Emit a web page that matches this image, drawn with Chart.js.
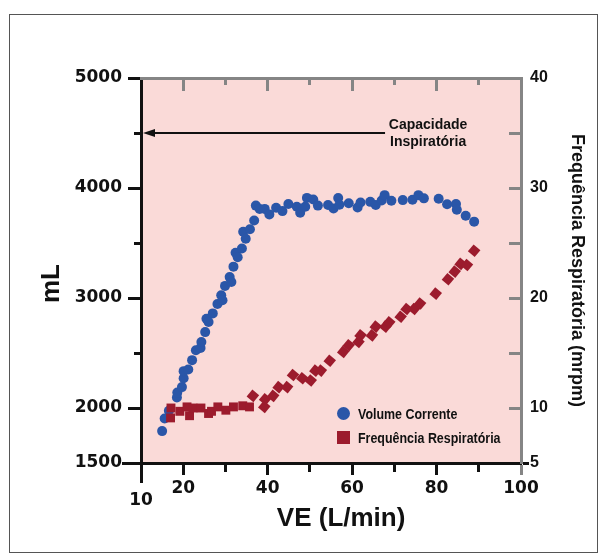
<!DOCTYPE html>
<html>
<head>
<meta charset="utf-8">
<script src="https://cdn.jsdelivr.net/npm/chart.js@4"></script>
<style>
  html, body { margin: 0; padding: 0; background: #fff; }
  #wrap { position: relative; width: 604px; height: 560px; }
  #frame { position: absolute; left: 9px; top: 14px; width: 587px; height: 537px; border: 1px solid #555; }
  #chart { position: absolute; left: 0; top: 0; }
  #legend { position: absolute; left: 337px; top: 401px; font: bold 15px 'Liberation Sans', sans-serif; color: #111; }
  #legend .row { height: 24px; display: flex; align-items: center; white-space: nowrap; }
  #legend .mk { width: 13px; height: 13px; margin-right: 8px; flex: none; }
  #legend .tx { display: inline-block; transform: scaleX(0.83); transform-origin: left center; }
</style>
</head>
<body>
<div id="wrap">
  <div id="frame"></div>
  <canvas id="chart" width="604" height="560"></canvas>
  <div id="legend"></div>
</div>
<script>
// Volume Corrente (mL) vs VE (L/min)
const veVolume = [15.0, 15.6, 16.6, 18.5, 18.6, 19.7, 20.1, 20.1, 21.2, 22.1, 23.0, 24.1, 24.3, 25.2, 25.5, 26.0,
  27.0, 28.1, 29.0, 29.3, 29.9, 31.0, 31.4, 31.9, 32.4, 32.9, 33.9, 34.2, 34.8, 35.8, 36.8, 37.2, 38.1, 39.3,
  40.4, 42.0, 43.5, 44.9, 46.9, 47.7, 48.9, 49.3, 50.8, 51.9, 54.3, 55.6, 56.7, 57.0, 59.2, 61.3, 62.0, 64.3,
  65.6, 67.0, 67.7, 69.3, 72.0, 74.3, 75.7, 77.0, 80.5, 82.5, 84.6, 84.8, 86.9, 88.9];
const volume = [1790, 1905, 1975, 2095, 2140, 2190, 2270, 2335, 2350, 2435, 2525, 2545, 2600, 2690, 2812, 2782,
  2860, 2945, 3025, 2980, 3110, 3190, 3145, 3285, 3412, 3370, 3450, 3603, 3538, 3625, 3705, 3840, 3810, 3810,
  3760, 3820, 3790, 3855, 3830, 3775, 3830, 3910, 3895, 3840, 3845, 3813, 3909, 3848, 3861, 3823, 3868, 3874,
  3845, 3887, 3935, 3884, 3890, 3893, 3935, 3906, 3903, 3852, 3855, 3803, 3748, 3694];

// Frequência Respiratória (mrpm) vs VE (L/min)
const veFreq = [17.0, 17.1, 19.2, 20.9, 21.5, 22.3, 24.2, 26.0, 26.7, 28.2, 30.1, 31.9, 34.1, 35.7, 36.5, 39.2,
  39.4, 41.3, 42.6, 44.6, 46.0, 48.2, 50.2, 51.3, 52.6, 54.7, 57.9, 59.2, 61.5, 62.0, 64.7, 65.6, 67.9, 68.8,
  71.5, 72.9, 74.7, 76.1, 79.8, 82.7, 84.3, 85.7, 87.2, 88.9];
const freq = [9.1, 10.0, 9.7, 10.1, 9.3, 10.0, 10.0, 9.5, 9.7, 10.1, 9.8, 10.1, 10.2, 10.1, 11.1, 10.1,
  10.8, 11.1, 11.9, 11.9, 13.0, 12.7, 12.5, 13.4, 13.4, 14.3, 15.1, 15.7, 16.0, 16.6, 16.6, 17.4, 17.4, 17.8,
  18.3, 19.0, 19.0, 19.5, 20.4, 21.7, 22.4, 23.1, 23.0, 24.3];

const xTicks = [10, 20, 40, 60, 80, 100];
const xMinorTicks = [30, 50, 70, 90];
const yTicks = [1500, 2000, 3000, 4000, 5000];
const yMinorTicks = [2500, 3500, 4500];
const rTicks = [5, 10, 20, 30, 40];
const rInnerTicks = [10, 15, 20, 25, 30, 35];

// annotation: arrow to the inspiratory capacity
const capValue = 4500;
const arrowEndVE = 67.8;
const capLabelVE = 78;

const BLUE = '#2a56a8', RED = '#9c1b2d', PINK = '#fadad8', GRAY = '#858585', INK = '#111';

const fixed = vals => s => { s.ticks = vals.map(v => ({ value: v })); };
const plain = v => String(v);

// decorative tick-only axis placed on a value of the other axis
function tickAxis(axis, pos, min, max, vals, len, color, border) {
  return {
    type: 'linear', axis, position: pos, min, max,
    afterBuildTicks: fixed(vals),
    ticks: { display: false },
    grid: { drawOnChartArea: false, drawTicks: true, tickLength: len, tickWidth: 3, tickColor: color },
    border: border ? { display: true, color: border, width: 3 } : { display: false }
  };
}

const bgPlugin = {
  id: 'bg',
  beforeDraw(chart) {
    const { ctx, chartArea: a } = chart;
    ctx.save();
    ctx.fillStyle = PINK;
    ctx.fillRect(a.left, a.top, a.right - a.left, a.bottom - a.top);
    ctx.restore();
  }
};

const capPlugin = {
  id: 'cap',
  afterDatasetsDraw(chart) {
    const { ctx, scales: { x, y } } = chart;
    const yy = y.getPixelForValue(capValue);
    const x0 = x.getPixelForValue(10) + 2;
    const x1 = x.getPixelForValue(arrowEndVE);
    ctx.save();
    ctx.strokeStyle = INK; ctx.fillStyle = INK; ctx.lineWidth = 2;
    ctx.beginPath(); ctx.moveTo(x0 + 10, yy); ctx.lineTo(x1, yy); ctx.stroke();
    ctx.beginPath(); ctx.moveTo(x0, yy); ctx.lineTo(x0 + 12, yy - 4); ctx.lineTo(x0 + 12, yy + 4); ctx.closePath(); ctx.fill();
    ctx.font = 'bold 14px "Liberation Sans", Arial, sans-serif';
    ctx.textAlign = 'center'; ctx.textBaseline = 'middle';
    const tx = x.getPixelForValue(capLabelVE);
    ctx.fillText('Capacidade', tx, yy - 8);
    ctx.fillText('Inspiratória', tx, yy + 9);
    ctx.restore();
  }
};

const tickFont = { family: 'DejaVu Sans', size: 17, weight: 'bold' };

const chart = new Chart(document.getElementById('chart'), {
  type: 'scatter',
  data: {
    datasets: [
      {
        label: 'Volume Corrente',
        data: veVolume.map((v, i) => ({ x: v, y: volume[i] })),
        xAxisID: 'x', yAxisID: 'y',
        pointStyle: 'circle', pointRadius: 5, borderWidth: 0,
        backgroundColor: BLUE, borderColor: BLUE, order: 1
      },
      {
        label: 'Frequência Respiratória',
        data: veFreq.map((v, i) => ({ x: v, y: freq[i] })),
        xAxisID: 'x', yAxisID: 'yR',
        pointStyle: 'rect', pointRadius: 6.3, borderWidth: 0,
        pointRotation: c => (c.raw && c.raw.x > 36 ? 40 : 0),
        backgroundColor: RED, borderColor: RED, order: 0
      }
    ]
  },
  options: {
    responsive: false,
    animation: false,
    events: [],
    layout: { padding: { top: 78, left: 0, right: 0, bottom: 0 } },
    plugins: { legend: { display: false }, tooltip: { enabled: false } },
    scales: {
      x: {
        type: 'linear', position: 'bottom', min: 10, max: 100,
        afterBuildTicks: fixed(xTicks),
        afterFit: s => { s.height = 97; },
        ticks: {
          color: INK, padding: 3, callback: plain,
          font: c => ({ ...tickFont, lineHeight: c.tick && c.tick.value === 10 ? 2.6 : 1.2 })
        },
        grid: {
          drawOnChartArea: false, tickLength: 12, tickWidth: 3,
          tickColor: c => (c.tick && c.tick.value === 10 ? 'rgba(0,0,0,0)' : c.tick && c.tick.value === 100 ? GRAY : INK)
        },
        border: { color: INK, width: 3 },
        title: {
          display: true, text: '\u2002 VE (L/min)', color: INK,
          font: { family: 'Liberation Sans', size: 26, weight: 'bold' },
          padding: { top: 0, bottom: 26 }
        }
      },
      y: {
        type: 'linear', position: 'left', min: 1500, max: 5000,
        afterBuildTicks: fixed(yTicks),
        afterFit: s => { s.width = 141; },
        ticks: { color: INK, padding: 0, font: tickFont, callback: plain },
        grid: {
          drawOnChartArea: false, tickLength: 19, tickWidth: 3,
          tickColor: c => (c.tick && c.tick.value === 1500 ? INK : 'rgba(0,0,0,0)')
        },
        border: { color: INK, width: 3 },
        title: {
          display: true, text: 'mL\u2003', color: INK,
          font: { family: 'Liberation Sans', size: 26, weight: 'bold' },
          padding: { top: 36, bottom: 0 }
        }
      },
      yR: {
        type: 'linear', position: 'right', min: 5, max: 40,
        afterBuildTicks: fixed(rTicks),
        afterFit: s => { s.width = 83; },
        ticks: { color: INK, padding: 1, callback: plain, font: { family: 'Liberation Sans', size: 16, weight: 'bold' } },
        grid: {
          drawOnChartArea: false, tickLength: 8, tickWidth: 3,
          tickColor: c => (c.tick && c.tick.value === 5 ? INK : 'rgba(0,0,0,0)')
        },
        border: { color: GRAY, width: 3 },
        title: {
          display: true, text: 'Frequência Respiratória (mrpm)', color: INK,
          font: { family: 'Liberation Sans', size: 18, weight: 'bold' },
          padding: { top: 16, bottom: 0 }
        }
      },
      yMaj: tickAxis('y', { x: 10 }, 1500, 5000, yTicks.slice(1), 13, INK),
      yMin: tickAxis('y', { x: 10 }, 1500, 5000, yMinorTicks, 7, INK),
      yRin: tickAxis('y', { x: 100 }, 5, 40, rInnerTicks, 12, GRAY),
      xMin: tickAxis('x', { y: 1500 }, 10, 100, xMinorTicks, 9, INK),
      x10: tickAxis('x', { y: 1500 }, 10, 100, [10], 20, INK),
      xTop: tickAxis('x', { y: 5000 }, 10, 100, [20, 40, 60, 80], 11, GRAY, GRAY),
      xTopMin: tickAxis('x', { y: 5000 }, 10, 100, xMinorTicks, 7, GRAY)
    }
  },
  plugins: [bgPlugin, capPlugin]
});

// legend
const legend = document.getElementById('legend');
chart.data.datasets.forEach(ds => {
  const row = document.createElement('div');
  row.className = 'row';
  const mk = document.createElement('span');
  mk.className = 'mk';
  mk.style.background = ds.backgroundColor;
  if (ds.pointStyle === 'circle') mk.style.borderRadius = '50%';
  const txt = document.createElement('span');
  txt.className = 'tx';
  txt.textContent = ds.label;
  row.appendChild(mk);
  row.appendChild(txt);
  legend.appendChild(row);
});
</script>
</body>
</html>
